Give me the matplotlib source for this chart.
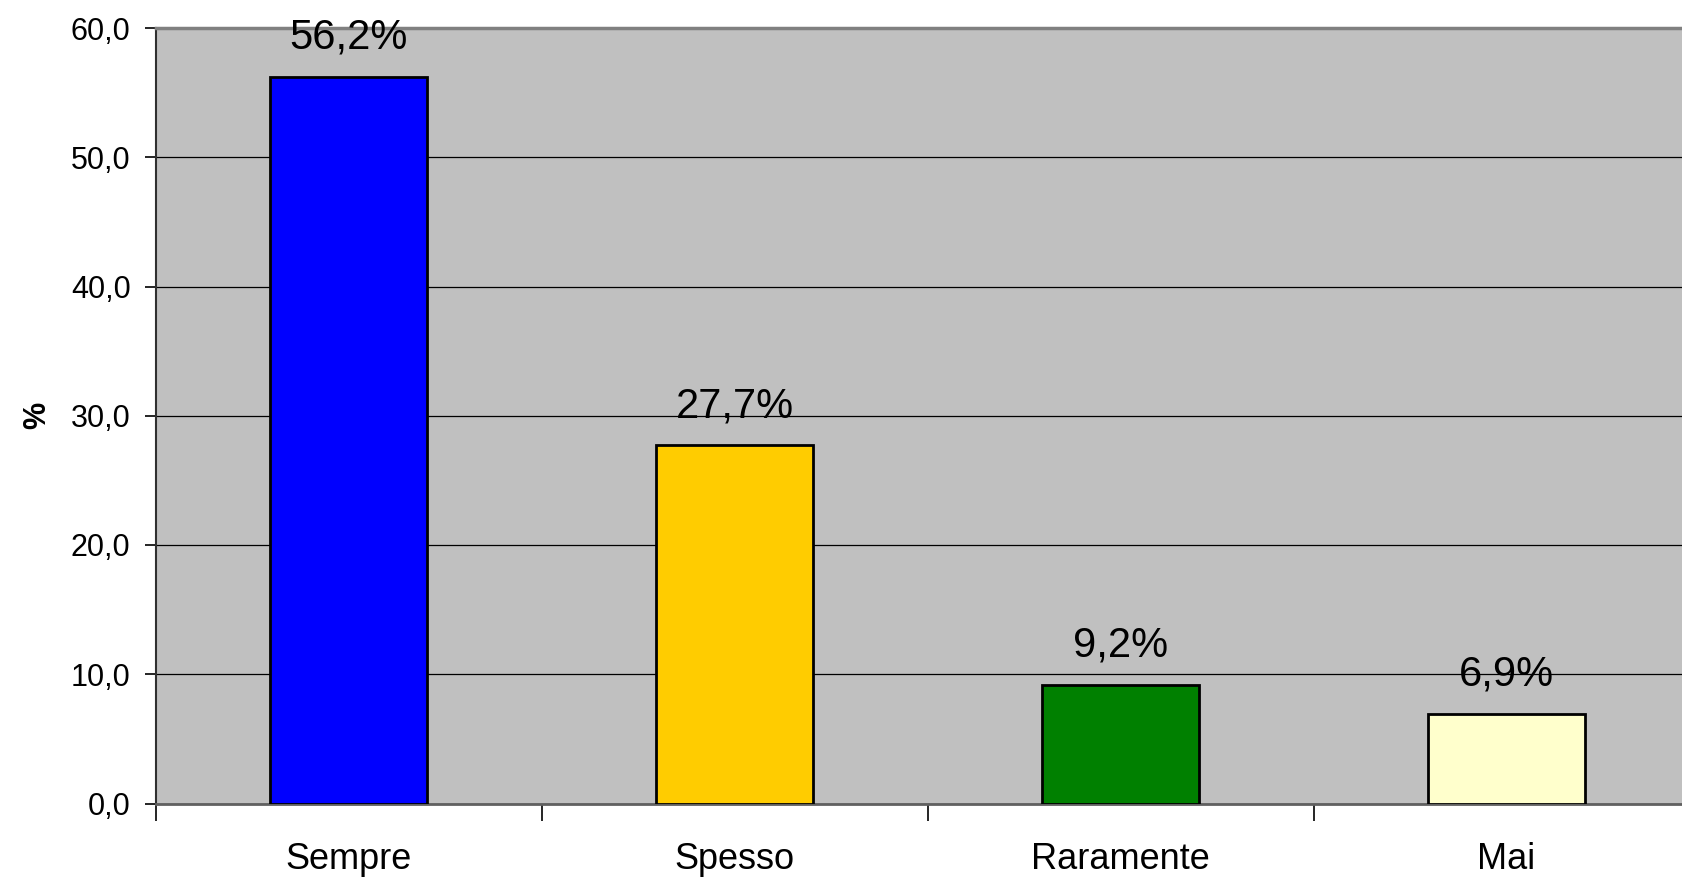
import numpy as np
import matplotlib.pyplot as plt

plt.rcParams['font.family'] = ['Liberation Sans', 'DejaVu Sans']

# data
categories = ['Sempre', 'Spesso', 'Raramente', 'Mai']
values = [56.2, 27.7, 9.2, 6.9]
labels = ['56,2%', '27,7%', '9,2%', '6,9%']
colors = ['#0000FF', '#FFCC00', '#008000', '#FFFFCC']

fig = plt.figure(figsize=(16.82, 8.77), dpi=100)
# plot area runs past the right edge of the picture, as in the original
ax = fig.add_axes([155.5 / 1682, 73.5 / 877, 1544 / 1682, 775.5 / 877])
ax.set_facecolor('#C0C0C0')

x = np.arange(len(categories))
ax.bar(x, values, width=0.405, color=colors, edgecolor='black',
       linewidth=2.0, zorder=3)

for xi, v, lab in zip(x, values, labels):
    ax.annotate(lab, (xi, v), xytext=(0, 14), textcoords='offset points',
                ha='center', va='bottom', fontsize=30, zorder=4)

ax.set_xlim(-0.5, 3.5)
ax.set_ylim(0, 60)
ax.set_yticks(np.arange(0, 61, 10))
ax.set_yticklabels([f'{t:.1f}'.replace('.', ',') for t in np.arange(0, 61, 10)])
ax.yaxis.grid(True, color='black', linewidth=0.9, zorder=1)
ax.set_axisbelow(True)

# category ticks sit at the boundaries
ax.set_xticks(np.arange(-0.5, 3.6, 1.0))
ax.set_xticklabels([])
ax.set_xticks(x, minor=True)
ax.set_xticklabels(categories, minor=True, fontsize=26)
ax.tick_params(axis='x', which='minor', length=0, pad=28)
ax.tick_params(axis='x', which='major', length=12, width=1.2, direction='out', color='black')
ax.tick_params(axis='y', length=8, width=1.2, direction='out', labelsize=22, pad=10)

ax.spines['top'].set_color('#808080')
ax.spines['top'].set_linewidth(2.5)
ax.spines['left'].set_color('#303030')
ax.spines['left'].set_linewidth(1.5)
ax.spines['bottom'].set_color('#606060')
ax.spines['bottom'].set_linewidth(2.0)
ax.spines['right'].set_visible(False)

ax.set_ylabel('%', fontsize=22, fontweight='bold', labelpad=13)

fig.savefig('out.png', dpi=100)
